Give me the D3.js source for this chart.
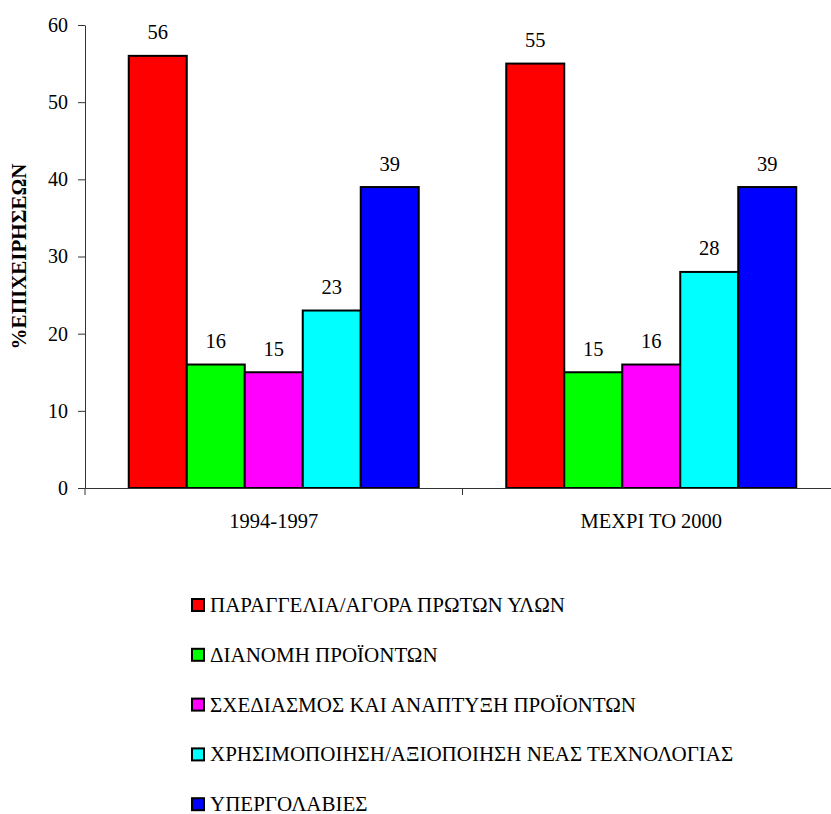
<!DOCTYPE html>
<html>
<head>
<meta charset="utf-8">
<script src="https://cdn.jsdelivr.net/npm/d3@7"></script>
</head>
<body style="margin:0; background:#fff">
<div id="chart"></div>
<script>
// Chart data
const periods = ["1994-1997", "ΜΕΧΡΙ ΤΟ 2000"];
const seriesNames = [
    "ΠΑΡΑΓΓΕΛΙΑ/ΑΓΟΡΑ ΠΡΩΤΩΝ ΥΛΩΝ",
    "ΔΙΑΝΟΜΗ ΠΡΟΪΟΝΤΩΝ",
    "ΣΧΕΔΙΑΣΜΟΣ ΚΑΙ ΑΝΑΠΤΥΞΗ ΠΡΟΪΟΝΤΩΝ",
    "ΧΡΗΣΙΜΟΠΟΙΗΣΗ/ΑΞΙΟΠΟΙΗΣΗ ΝΕΑΣ ΤΕΧΝΟΛΟΓΙΑΣ",
    "ΥΠΕΡΓΟΛΑΒΙΕΣ"
];
const values1994 = [56, 16, 15, 23, 39];
const values2000 = [55, 15, 16, 28, 39];
const yTicks = [0, 10, 20, 30, 40, 50, 60];
const colors = ["#ff0000", "#00ff00", "#ff00ff", "#00ffff", "#0000ff"];

const FONT = "'Liberation Serif'";
const width = 831, height = 814;
const plotLeft = 85, plotRight = 840, plotTop = 25, plotBottom = 488;

const svg = d3.select("#chart")
    .append("svg")
        .attr("width", width)
        .attr("height", height)
        .style("display", "block");

const x0 = d3.scaleBand()
    .domain(periods)
    .range([plotLeft, plotRight])
    .paddingInner(0)
    .paddingOuter(0);

// bars take 290px of each 377.5px category
const x1 = d3.scaleBand()
    .domain(seriesNames)
    .range([43.75, x0.bandwidth() - 43.75])
    .padding(0);

const y = d3.scaleLinear()
    .domain([0, 60])
    .range([plotBottom, plotTop]);

const color = d3.scaleOrdinal(seriesNames, colors);

const rows = periods.map((p, i) => ({
    period: p,
    values: (i === 0 ? values1994 : values2000).map((v, j) => ({name: seriesNames[j], value: v}))
}));

// Bars
const groups = svg.selectAll("g.group")
    .data(rows)
    .enter()
    .append("g")
        .attr("class", "group")
        .attr("transform", d => "translate(" + x0(d.period) + ",0)");

groups.selectAll("rect")
    .data(d => d.values)
    .enter()
    .append("rect")
        .attr("x", d => x1(d.name))
        .attr("y", d => y(d.value))
        .attr("width", x1.bandwidth())
        .attr("height", d => y(0) - y(d.value))
        .attr("fill", d => color(d.name))
        .attr("stroke", "#000")
        .attr("stroke-width", 2);

groups.selectAll("text.val")
    .data(d => d.values)
    .enter()
    .append("text")
        .attr("class", "val")
        .attr("x", d => x1(d.name) + x1.bandwidth() / 2)
        .attr("y", d => y(d.value) - 16.5)
        .attr("text-anchor", "middle")
        .style("font-family", FONT)
        .style("font-size", "20.5px")
        .text(d => d.value);

// Y axis
const yAxis = svg.append("g")
    .attr("transform", "translate(" + plotLeft + ",0)")
    .call(d3.axisLeft(y).tickValues(yTicks).tickSize(7).tickPadding(10).tickSizeOuter(0));
yAxis.select(".domain").attr("stroke", "#333");
yAxis.selectAll(".tick line").attr("stroke", "#333");
yAxis.selectAll(".tick text")
    .style("font-family", FONT)
    .style("font-size", "20px")
    .attr("fill", "#000");

// X axis
const xAxis = svg.append("g")
    .attr("transform", "translate(0," + plotBottom + ")")
    .call(d3.axisBottom(x0).tickSize(0).tickPadding(25).tickSizeOuter(0));
xAxis.select(".domain").attr("stroke", "#333");
xAxis.selectAll(".tick text")
    .style("font-family", FONT)
    .style("font-size", "20.5px")
    .attr("fill", "#000");

// category separators on x axis
const sepPositions = [plotLeft, x0(periods[1])];
svg.selectAll("line.sep")
    .data(sepPositions)
    .enter()
    .append("line")
        .attr("class", "sep")
        .attr("x1", d => d)
        .attr("x2", d => d)
        .attr("y1", plotBottom)
        .attr("y2", plotBottom + 7)
        .attr("stroke", "#333");

// Y axis title
svg.append("text")
    .attr("transform", "translate(26," + ((plotTop + plotBottom) / 2) + ") rotate(-90)")
    .attr("text-anchor", "middle")
    .style("font-family", FONT)
    .style("font-size", "21px")
    .style("font-weight", "bold")
    .text("%ΕΠΙΧΕΙΡΗΣΕΩΝ");

// Legend
const legend = svg.selectAll("g.legend")
    .data(seriesNames)
    .enter()
    .append("g")
        .attr("class", "legend")
        .attr("transform", (d, i) => "translate(192," + (599 + i * 49.8) + ")");

legend.append("rect")
    .attr("width", 12)
    .attr("height", 12)
    .attr("fill", d => color(d))
    .attr("stroke", "#000")
    .attr("stroke-width", 2);

legend.append("text")
    .attr("x", 18)
    .attr("y", 13)
    .style("font-family", FONT)
    .style("font-size", "21px")
    .text(d => d);
</script>
</body>
</html>
